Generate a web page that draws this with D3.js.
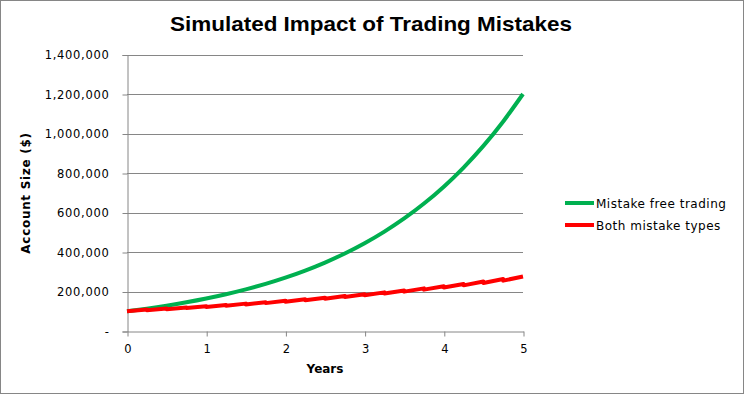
<!DOCTYPE html>
<html>
    <head>
        <title>Simulated Impact of Trading Mistakes</title>
        <script src="https://d3js.org/d3.v7.min.js"></script>
    </head>
    <style>
        body {
            margin: 0;
            background: #fff;
        }
        svg text {
            font-family: "DejaVu Sans", Verdana, sans-serif;
            fill: #000;
        }
    </style>
    <body>

        <div id="chart"></div>

        <script>

            // Data
            const years = [0, 0.25, 0.5, 0.75, 1, 1.25, 1.5, 1.75, 2, 2.25, 2.5,
                           2.75, 3, 3.25, 3.5, 3.75, 4, 4.25, 4.5, 4.75, 5];
            const mistakeFree = [100000, 113200, 128200, 145200, 164400, 186200, 210800,
                                 238700, 270300, 306100, 346600, 392500, 444400, 503300,
                                 569900, 645400, 730800, 827600, 937100, 1061200, 1200000];
            // both mistake types: value after each quarterly drop, and the peak just before it
            const bothLow = [100000, 105000, 110400, 115900, 121800, 127900, 134400, 141200,
                             148300, 155800, 163700, 171900, 180600, 189700, 199300, 209400,
                             220000, 231100, 242700, 255000];
            const bothPeak = [108300, 113800, 119500, 125600, 131900, 138600, 145600, 152900,
                              160600, 168700, 177300, 186200, 195600, 205500, 215900, 226800,
                              238200, 250300, 262900, 276200];
            const yTicks = [0, 200000, 400000, 600000, 800000, 1000000, 1200000, 1400000];
            const xTicks = [0, 1, 2, 3, 4, 5];
            const seriesNames = ["Mistake free trading", "Both mistake types"];
            const seriesColors = ["#00b050", "#ff0000"];

            const width = 744, height = 394;
            const gridColor = "#868686";

            const svg = d3.select("#chart")
                        .append("svg")
                        .attr("width", width)
                        .attr("height", height);

            // outer frame
            svg.append("rect")
                .attr("x", 0.5).attr("y", 0.5)
                .attr("width", width - 1).attr("height", height - 1)
                .attr("fill", "#fff")
                .attr("stroke", gridColor);

            const x = d3.scaleLinear().domain([0, 5]).range([127, 523]);
            const y = d3.scaleLinear().domain([0, 1400000]).range([331, 54.5]);

            // horizontal gridlines
            svg.append("g")
                .selectAll("line")
                .data(yTicks.filter(d => d > 0))
                .join("line")
                .attr("x1", x(0)).attr("x2", x(5))
                .attr("y1", d => Math.round(y(d)) + 0.5)
                .attr("y2", d => Math.round(y(d)) + 0.5)
                .attr("stroke", gridColor);

            // y axis
            const yAxis = svg.append("g")
                .attr("transform", `translate(${Math.round(x(0)) + 0.5},0.5)`)
                .call(d3.axisLeft(y)
                    .tickValues(yTicks)
                    .tickSize(5)
                    .tickPadding(13)
                    .tickFormat(d => d === 0 ? "-" : d3.format(",")(d)));
            yAxis.select(".domain").attr("stroke", gridColor);
            yAxis.selectAll(".tick line").attr("stroke", gridColor);
            yAxis.selectAll(".tick text")
                .style("font-size", "11.5px")
                .style("letter-spacing", "0.7px")
                .attr("fill", "#000");

            // x axis
            const xAxis = svg.append("g")
                .attr("transform", `translate(0.5,${Math.round(y(0)) + 0.5})`)
                .call(d3.axisBottom(x)
                    .tickValues(xTicks)
                    .tickSize(5)
                    .tickPadding(8)
                    .tickSizeOuter(0)
                    .tickFormat(d3.format("d")));
            xAxis.select(".domain").attr("stroke", gridColor);
            xAxis.selectAll(".tick line").attr("stroke", gridColor);
            xAxis.selectAll(".tick text")
                .style("font-size", "11.5px")
                .attr("fill", "#000");

            // green curve
            const greenLine = d3.line()
                .x((d, i) => x(years[i]))
                .y(d => y(d))
                .curve(d3.curveMonotoneX);

            svg.append("path")
                .datum(mistakeFree)
                .attr("d", greenLine)
                .attr("fill", "none")
                .attr("stroke", seriesColors[0])
                .attr("stroke-width", 4);

            // red sawtooth: rise over each quarter, then a small drop
            const redPts = [];
            bothLow.forEach((v, q) => {
                redPts.push([years[q], v]);
                redPts.push([years[q + 1], bothPeak[q]]);
            });
            svg.append("path")
                .datum(redPts)
                .attr("d", d3.line().x(d => x(d[0])).y(d => y(d[1])))
                .attr("fill", "none")
                .attr("stroke", seriesColors[1])
                .attr("stroke-width", 4)
                .attr("stroke-linejoin", "round");

            // titles
            svg.append("text")
                .attr("x", 371)
                .attr("y", 31)
                .attr("text-anchor", "middle")
                .attr("textLength", 402)
                .attr("lengthAdjust", "spacingAndGlyphs")
                .style("font-family", "'Liberation Sans', Arial, sans-serif")
                .style("font-size", "21px")
                .style("font-weight", "bold")
                .text("Simulated Impact of Trading Mistakes");

            svg.append("text")
                .attr("transform", "translate(30,193) rotate(-90)")
                .attr("text-anchor", "middle")
                .style("font-size", "12px")
                .style("font-weight", "bold")
                .style("letter-spacing", "0.7px")
                .text("Account Size ($)");

            svg.append("text")
                .attr("x", 325)
                .attr("y", 373)
                .attr("text-anchor", "middle")
                .style("font-size", "12px")
                .style("font-weight", "bold")
                .text("Years");

            // legend
            const legend = svg.append("g")
                .selectAll("g")
                .data(seriesNames)
                .join("g")
                .attr("transform", (d, i) => `translate(565,${203 + i * 22})`);
            legend.append("line")
                .attr("x1", 0).attr("x2", 29)
                .attr("stroke", (d, i) => seriesColors[i])
                .attr("stroke-width", 4);
            legend.append("text")
                .attr("x", 31)
                .attr("y", 4.5)
                .style("font-size", "12px")
                .style("letter-spacing", "0.5px")
                .text(d => d);

        </script>

    </body>
</html>
